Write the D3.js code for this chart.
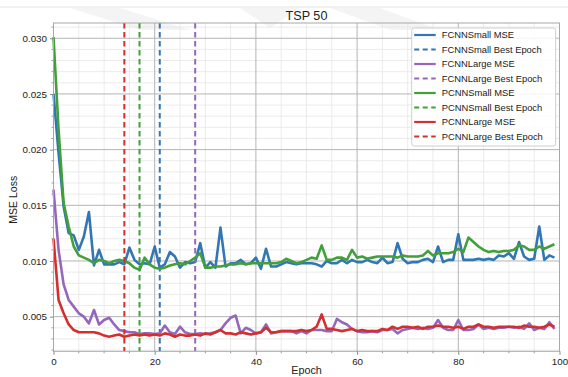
<!DOCTYPE html>
<html>
<head>
<meta charset="utf-8">
<script src="https://cdn.jsdelivr.net/npm/d3@7"></script>
<style>
  html, body { margin: 0; padding: 0; background: #fff; }
  svg { display: block; font-family: "Liberation Sans", Arial, sans-serif; }
</style>
</head>
<body>
<svg id="chart" width="568" height="377"></svg>
<script>
// Training loss per epoch for four models on TSP 50
const epochs = d3.range(100);

const fcnnSmall = [
  0.0250, 0.0197, 0.0149, 0.0125, 0.0123, 0.0110, 0.0122, 0.0144, 0.0096, 0.0110,
  0.0097, 0.0097, 0.0097, 0.0099, 0.0097, 0.0112, 0.0101, 0.0097, 0.0098, 0.0097,
  0.0113, 0.0094, 0.0097, 0.0108, 0.0104, 0.0094, 0.0099, 0.0098, 0.0099, 0.0116,
  0.0094, 0.0099, 0.0094, 0.0130, 0.0095, 0.0098, 0.0098, 0.0101, 0.0097, 0.0098,
  0.0103, 0.0093, 0.0111, 0.0095, 0.0095, 0.0097, 0.0099, 0.0098, 0.0097, 0.0098,
  0.0098, 0.0098, 0.0097, 0.0095, 0.0100, 0.0098, 0.0098, 0.0101, 0.0098, 0.0101,
  0.0099, 0.0099, 0.0101, 0.0099, 0.0098, 0.0103, 0.0098, 0.0099, 0.0116, 0.0102,
  0.0098, 0.0099, 0.0099, 0.0101, 0.0102, 0.0099, 0.0113, 0.0099, 0.0101, 0.0101,
  0.0124, 0.0101, 0.0101, 0.0101, 0.0102, 0.0101, 0.0102, 0.0101, 0.0105, 0.0104,
  0.0107, 0.0102, 0.0117, 0.0104, 0.0101, 0.0102, 0.0131, 0.0101, 0.0105, 0.0103
];

const fcnnLarge = [
  0.0164, 0.0110, 0.0079, 0.0065, 0.0059, 0.0053, 0.0050, 0.0044, 0.0056, 0.0043,
  0.0047, 0.0049, 0.0043, 0.0038, 0.0037, 0.0036, 0.0036, 0.00345, 0.0035, 0.0035,
  0.00345, 0.0035, 0.0042, 0.0036, 0.00345, 0.0041, 0.0036, 0.00345, 0.00345, 0.0035,
  0.00345, 0.0035, 0.0036, 0.0038, 0.0044, 0.0049, 0.0051, 0.0035, 0.0040, 0.0038,
  0.0035, 0.0036, 0.0043, 0.0035, 0.0036, 0.0037, 0.0037, 0.0037, 0.0035, 0.0037,
  0.0035, 0.0038, 0.0038, 0.0038, 0.0037, 0.0037, 0.0048, 0.0045, 0.0043, 0.0039,
  0.0037, 0.0036, 0.0036, 0.0037, 0.0036, 0.0038, 0.0038, 0.0039, 0.0035, 0.0038,
  0.0039, 0.0040, 0.0039, 0.0040, 0.0039, 0.0040, 0.0047, 0.0040, 0.0038, 0.0038,
  0.0047, 0.0038, 0.0038, 0.0039, 0.0043, 0.0039, 0.0040, 0.0039, 0.0040, 0.0040,
  0.0041, 0.0040, 0.0041, 0.0039, 0.0044, 0.0038, 0.0040, 0.0039, 0.0045, 0.0039
];

const pcnnSmall = [
  0.0301, 0.0218, 0.0152, 0.0131, 0.0113, 0.0105, 0.0103, 0.0101, 0.0098, 0.0101,
  0.0100, 0.0098, 0.0100, 0.0101, 0.0100, 0.0098, 0.0094, 0.0092, 0.0103, 0.0097,
  0.0094, 0.0093, 0.0094, 0.0096, 0.0097, 0.0098, 0.0097, 0.0100, 0.0103, 0.0107,
  0.0094, 0.0094, 0.0095, 0.0095, 0.0096, 0.0097, 0.0097, 0.0098, 0.0097, 0.0098,
  0.0098, 0.0098, 0.0098, 0.0098, 0.0098, 0.0099, 0.0102, 0.0100, 0.0098, 0.0099,
  0.0101, 0.0103, 0.0102, 0.0114, 0.0101, 0.0101, 0.0103, 0.0103, 0.0101, 0.0110,
  0.0103, 0.0104, 0.0102, 0.0103, 0.0104, 0.0104, 0.0104, 0.0104, 0.0103, 0.0105,
  0.0104, 0.0104, 0.0104, 0.0105, 0.0109, 0.0105, 0.0107, 0.0107, 0.0107, 0.0108,
  0.0111, 0.0108, 0.0121, 0.0117, 0.0113, 0.0110, 0.0108, 0.0109, 0.0108, 0.0109,
  0.0109, 0.0110, 0.0114, 0.0113, 0.0110, 0.0110, 0.0113, 0.0111, 0.0113, 0.0115
];

const pcnnLarge = [
  0.0120, 0.0065, 0.0053, 0.0043, 0.0038, 0.0036, 0.0036, 0.0036, 0.0036, 0.0035,
  0.0033, 0.0032, 0.0033, 0.0034, 0.0032, 0.0033, 0.0034, 0.0033, 0.0034, 0.0033,
  0.0034, 0.0033, 0.0035, 0.0034, 0.0032, 0.0034, 0.0033, 0.0033, 0.0034, 0.0033,
  0.0035, 0.0034, 0.0036, 0.0038, 0.0035, 0.0035, 0.0034, 0.0036, 0.0035, 0.0034,
  0.0035, 0.0036, 0.0040, 0.0036, 0.0036, 0.0037, 0.0037, 0.0037, 0.0037, 0.0038,
  0.0037, 0.0038, 0.0041, 0.0052, 0.0039, 0.0039, 0.0038, 0.0037, 0.0038, 0.0039,
  0.0037, 0.0038, 0.0037, 0.0037, 0.0037, 0.0039, 0.0038, 0.0041, 0.0039, 0.0041,
  0.0041, 0.0040, 0.0041, 0.0039, 0.0041, 0.0041, 0.0042, 0.0041, 0.0041, 0.0040,
  0.0041, 0.0039, 0.0041, 0.0041, 0.0043, 0.0041, 0.0041, 0.0040, 0.0041, 0.0041,
  0.0041, 0.0041, 0.0040, 0.0042, 0.0041, 0.0041, 0.0040, 0.0041, 0.0043, 0.0041
];

// Epoch with the lowest validation loss for each model
const bestEpochs = { fcnnSmall: 21, fcnnLarge: 28, pcnnSmall: 17, pcnnLarge: 14 };

const seriesNames = ["FCNNSmall", "FCNNLarge", "PCNNSmall", "PCNNLarge"];
const seriesColors = ["#3276b4", "#9467bd", "#429f3a", "#d32f2f"];

const xTicks = [0, 20, 40, 60, 80, 100];
const yTicks = [0.005, 0.010, 0.015, 0.020, 0.025, 0.030];

const series = [
  { name: seriesNames[0], values: fcnnSmall, best: bestEpochs.fcnnSmall, color: seriesColors[0] },
  { name: seriesNames[1], values: fcnnLarge, best: bestEpochs.fcnnLarge, color: seriesColors[1] },
  { name: seriesNames[2], values: pcnnSmall, best: bestEpochs.pcnnSmall, color: seriesColors[2] },
  { name: seriesNames[3], values: pcnnLarge, best: bestEpochs.pcnnLarge, color: seriesColors[3] }
];

const W = 568, H = 377;
const margin = { top: 23, right: 8.5, bottom: 25.7, left: 53.5 };
const iw = W - margin.left - margin.right;
const ih = H - margin.top - margin.bottom;

const svg = d3.select("#chart");

// faint page decoration at the top edge
const deco = svg.append("g").attr("class", "page-deco");
deco.append("line").attr("x1", 0).attr("x2", W).attr("y1", 7).attr("y2", 7)
  .attr("stroke", "#e2e2e2").attr("stroke-width", 1);
deco.append("path").attr("d", "M70,8 L120,8 L190,30 L140,30 Z").attr("fill", "#f4f4f4");
deco.append("path").attr("d", "M240,8 L300,8 L270,28 Z").attr("fill", "#f4f4f4");
deco.append("path").attr("d", "M330,8 L380,8 L440,30 L390,30 Z").attr("fill", "#f4f4f4");

const g = svg.append("g").attr("transform", `translate(${margin.left},${margin.top})`);

const x = d3.scaleLinear().domain([0, 100]).range([0, iw]);
const y = d3.scaleLinear().domain([0.00189, 0.03137]).range([ih, 0]);

// minor grid
const xMinor = d3.range(0, 101, 5).filter(v => !xTicks.includes(v));
const yMinor = d3.range(2, 32).map(v => v / 1000).filter(v => !yTicks.some(t => Math.abs(t - v) < 1e-9));

g.append("g").selectAll("line").data(xMinor).join("line")
  .attr("x1", d => x(d)).attr("x2", d => x(d)).attr("y1", 0).attr("y2", ih)
  .attr("stroke", "#e6e6e6").attr("stroke-width", 0.8);
g.append("g").selectAll("line").data(yMinor).join("line")
  .attr("y1", d => y(d)).attr("y2", d => y(d)).attr("x1", 0).attr("x2", iw)
  .attr("stroke", "#e6e6e6").attr("stroke-width", 0.8);

// major grid
g.append("g").selectAll("line").data(xTicks).join("line")
  .attr("x1", d => x(d)).attr("x2", d => x(d)).attr("y1", 0).attr("y2", ih)
  .attr("stroke", "#b4b4b4").attr("stroke-width", 1);
g.append("g").selectAll("line").data(yTicks).join("line")
  .attr("y1", d => y(d)).attr("y2", d => y(d)).attr("x1", 0).attr("x2", iw)
  .attr("stroke", "#b4b4b4").attr("stroke-width", 1);

// loss curves and best-epoch markers
const line = d3.line().x((d, i) => x(epochs[i])).y(d => y(d));
const plot = g.append("g");
series.forEach(s => {
  plot.append("path").datum(s.values)
    .attr("d", line)
    .attr("fill", "none")
    .attr("stroke", s.color)
    .attr("stroke-width", 2.6)
    .attr("stroke-linejoin", "round");
  plot.append("line")
    .attr("x1", x(s.best)).attr("x2", x(s.best))
    .attr("y1", 0).attr("y2", ih)
    .attr("stroke", s.color)
    .attr("stroke-width", 2)
    .attr("stroke-dasharray", "5.5,3.5");
});

// frame
g.append("rect").attr("x", 0).attr("y", 0).attr("width", iw).attr("height", ih)
  .attr("fill", "none").attr("stroke", "#a8a8a8").attr("stroke-width", 1);

// axes
const xAxis = g.append("g").attr("transform", `translate(0,${ih})`)
  .call(d3.axisBottom(x).tickValues(xTicks).tickFormat(d3.format("d")).tickSize(3.5).tickPadding(3));
const yAxis = g.append("g")
  .call(d3.axisLeft(y).tickValues(yTicks).tickFormat(d3.format(".3f")).tickSize(3.5).tickPadding(3));
[xAxis, yAxis].forEach(a => {
  a.select(".domain").remove();
  a.selectAll(".tick line").attr("stroke", "#888");
  a.selectAll(".tick text").attr("fill", "#222").style("font-size", "9.8px")
    .style("font-family", "'Liberation Sans', Arial, sans-serif");
});

// minor ticks
g.append("g").attr("transform", `translate(0,${ih})`).selectAll("line").data(xMinor).join("line")
  .attr("x1", d => x(d)).attr("x2", d => x(d)).attr("y1", 0).attr("y2", 2)
  .attr("stroke", "#999");
g.append("g").selectAll("line").data(yMinor).join("line")
  .attr("y1", d => y(d)).attr("y2", d => y(d)).attr("x1", 0).attr("x2", -2)
  .attr("stroke", "#999");

// labels
svg.append("text").attr("x", margin.left + iw / 2).attr("y", 20)
  .attr("text-anchor", "middle").attr("fill", "#222").style("font-size", "12.6px")
  .text("TSP 50");
svg.append("text").attr("x", margin.left + iw / 2).attr("y", 374)
  .attr("text-anchor", "middle").attr("fill", "#222").style("font-size", "10.8px")
  .text("Epoch");
svg.append("text")
  .attr("transform", `translate(17,${margin.top + y(0.0155)}) rotate(-90)`)
  .attr("text-anchor", "middle").attr("fill", "#222").style("font-size", "10.5px")
  .text("MSE Loss");

// legend
const legendItems = [];
series.forEach(s => {
  legendItems.push({ label: `${s.name} MSE`, color: s.color, dashed: false });
  legendItems.push({ label: `${s.name} Best Epoch`, color: s.color, dashed: true });
});
const lg = svg.append("g").attr("transform", "translate(411.7,28)");
lg.append("rect").attr("width", 144).attr("height", 118).attr("rx", 2.5)
  .attr("fill", "#fff").attr("fill-opacity", 0.85).attr("stroke", "#cfcfcf");
const rows = lg.selectAll("g.row").data(legendItems).join("g")
  .attr("class", "row").attr("transform", (d, i) => `translate(0,${7 + i * 14.5})`);
rows.append("line").attr("x1", 2.5).attr("x2", 24).attr("y1", 0).attr("y2", 0)
  .attr("stroke", d => d.color).attr("stroke-width", 2.2)
  .attr("stroke-dasharray", d => d.dashed ? "5,3.5" : null);
rows.append("text").attr("x", 30).attr("y", 3.4).attr("fill", "#222")
  .style("font-size", "9.4px").text(d => d.label);
</script>
</body>
</html>
